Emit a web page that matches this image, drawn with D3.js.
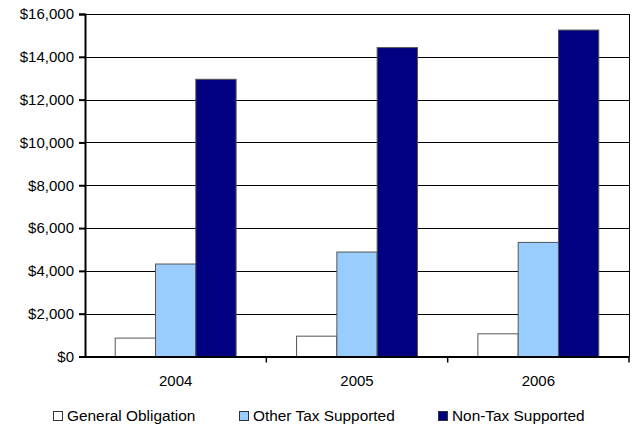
<!DOCTYPE html>
<html><head><meta charset="utf-8">
<script src="https://cdn.jsdelivr.net/npm/d3@7"></script>
<style>body{margin:0;background:#fff}svg{display:block}text{font-family:"Liberation Sans",Arial,sans-serif}</style>
</head><body><svg id="c" width="633" height="428"></svg>
<script>
const years = ["2004", "2005", "2006"];
const seriesNames = ["General Obligation", "Other Tax Supported", "Non-Tax Supported"];
const generalObligation = [860, 950, 1060];
const otherTaxSupported = [4320, 4880, 5330];
const nonTaxSupported = [12950, 14430, 15250];
const colors = ["#ffffff", "#99ccff", "#000080"];
const yTicks = [0, 2000, 4000, 6000, 8000, 10000, 12000, 14000, 16000];

const svg = d3.select("#c");
const m = {l: 85, r: 629, t: 14, b: 356.5};
const x0 = d3.scaleBand().domain(years).range([m.l, m.r]).paddingInner(0).paddingOuter(0);
const y = d3.scaleLinear().domain([0, 16000]).range([m.b, m.t]);
const data = [generalObligation, otherTaxSupported, nonTaxSupported];
const x1 = d3.scaleBand().domain(d3.range(3)).range([0, x0.bandwidth()]).paddingInner(0).paddingOuter(0.75);

// gridlines
svg.append("g").selectAll("line").data(yTicks.slice(1)).join("line")
  .attr("x1", m.l).attr("x2", m.r)
  .attr("y1", d => Math.round(y(d)) + 0.5).attr("y2", d => Math.round(y(d)) + 0.5)
  .attr("stroke", "#000").attr("stroke-width", 1);
// right border
svg.append("line").attr("x1", m.r + 0.5).attr("x2", m.r + 0.5).attr("y1", m.t).attr("y2", m.b)
  .attr("stroke", "#000");

// bars
years.forEach((yr, i) => {
  const g = svg.append("g").attr("transform", `translate(${x0(yr)},0)`);
  data.forEach((s, j) => {
    g.append("rect")
      .attr("x", x1(j)).attr("width", x1.bandwidth())
      .attr("y", y(s[i])).attr("height", y(0) - y(s[i]))
      .attr("fill", colors[j]).attr("stroke", "#555").attr("stroke-width", 1);
  });
});

// y axis
const yAxis = d3.axisLeft(y).tickValues(yTicks).tickSize(6).tickPadding(5)
  .tickFormat(d => "$" + d3.format(",")(d));
const ya = svg.append("g").attr("transform", `translate(${m.l},0)`).call(yAxis);
ya.select(".domain").attr("stroke", "#000").attr("stroke-width", 2);
ya.selectAll(".tick line").attr("stroke", "#000").attr("stroke-width", 2);
ya.selectAll("text").attr("font-size", 15).attr("fill", "#000").attr("font-family", "Liberation Sans, Arial, sans-serif");

// x axis
const xAxis = d3.axisBottom(x0).tickSize(0).tickPadding(19);
const xa = svg.append("g").attr("transform", `translate(0,${m.b})`).call(xAxis);
xa.select(".domain").attr("stroke", "#000").attr("stroke-width", 2);
xa.selectAll("text").attr("font-size", 15).attr("fill", "#000").attr("font-family", "Liberation Sans, Arial, sans-serif");
// category separator ticks
svg.append("g").selectAll("line").data(years.slice(1).concat(["end"])).join("line")
  .attr("x1", d => d === "end" ? m.r : x0(d)).attr("x2", d => d === "end" ? m.r : x0(d))
  .attr("y1", m.b).attr("y2", m.b + 6).attr("stroke", "#000").attr("stroke-width", 1.5);

// legend
const legX = [53, 239, 438];
const lg = svg.append("g");
seriesNames.forEach((n, j) => {
  lg.append("rect").attr("x", legX[j] + 0.5).attr("y", 411.5).attr("width", 9).attr("height", 9)
    .attr("fill", colors[j]).attr("stroke", "#333");
  lg.append("text").attr("x", legX[j] + 14).attr("y", 421).attr("font-size", 15.4).attr("fill", "#000").text(n);
});
</script></body></html>
